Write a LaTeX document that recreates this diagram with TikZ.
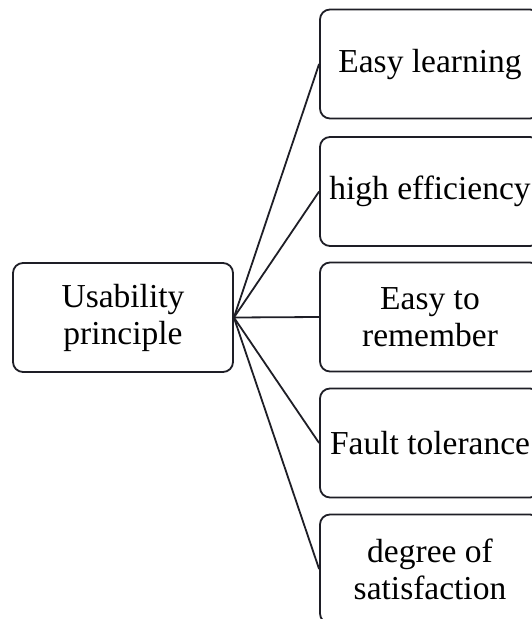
\documentclass[tikz,border=0pt]{standalone}
\usepackage{fontspec}
\setmainfont{Liberation Serif}
\definecolor{boxc}{RGB}{30,30,38}
\begin{document}
\begin{tikzpicture}[x=1pt,y=-1pt]
\tikzset{
  box/.style={draw=boxc, line width=1.8pt, rounded corners=10pt,
    minimum width=220pt, minimum height=109pt, align=center,
    font=\fontsize{33.5}{37}\selectfont, inner sep=0pt, text=black},
  link/.style={draw=boxc, line width=1.8pt}
}
\useasboundingbox (0,0) rectangle (532,619);
\clip (0,0) rectangle (532,619);
\node[box] (root) at (123,317.5) {Usability\\principle};
\node[box] (a) at (430,64) {Easy learning};
\node[box] (b) at (430,191.5) {high efficiency};
\node[box] (c) at (430,317) {Easy to\\remember};
\node[box] (d) at (430,443) {Fault tolerance};
\node[box] (e) at (430,569) {degree of\\satisfaction};
\foreach \t in {a,b,c,d,e}{
  \draw[link] (root.east) -- (\t.west);
}
\end{tikzpicture}
\end{document}
